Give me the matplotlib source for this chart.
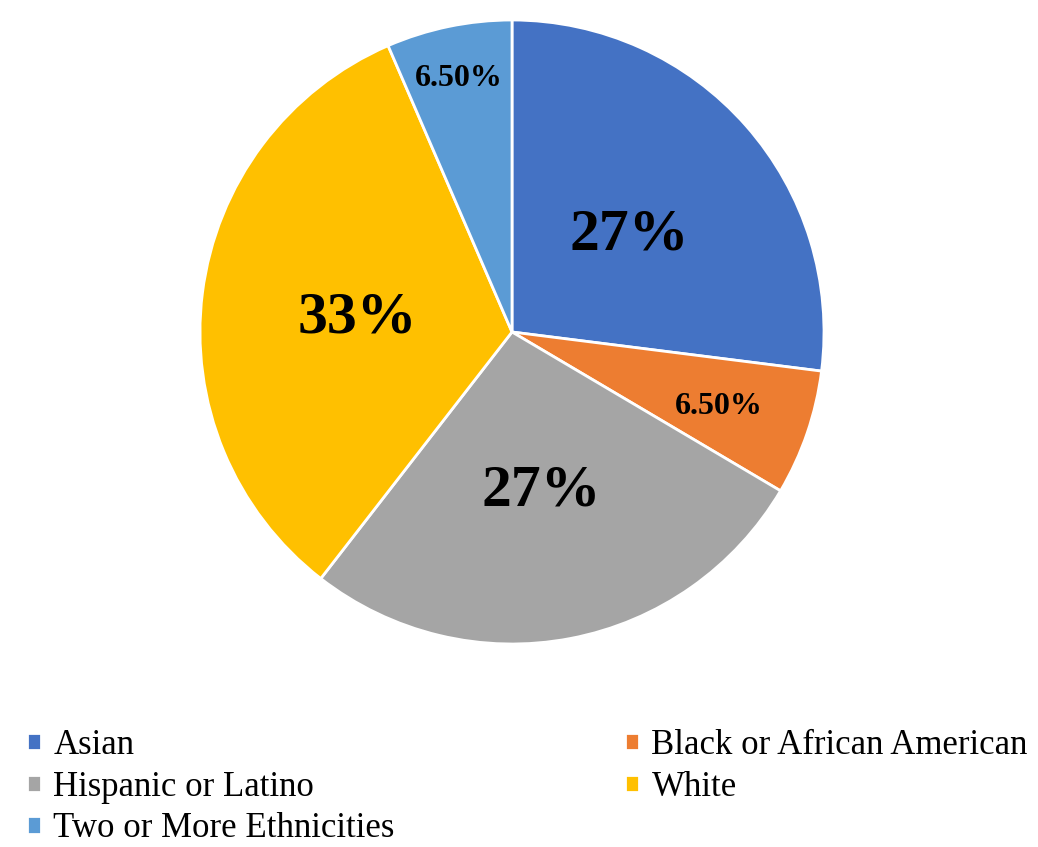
import numpy as np
import matplotlib.pyplot as plt

# data
groups = ['Asian', 'Black or African American', 'Hispanic or Latino', 'White', 'Two or More Ethnicities']
shares = [27, 6.5, 27, 33, 6.5]
pct_labels = ['27%', '6.50%', '27%', '33%', '6.50%']
colors = ['#4472C4', '#ED7D31', '#A5A5A5', '#FFC000', '#5B9BD5']

label_size = [43, 23, 43, 43, 23]
label_dist = [0.5, 0.7, 0.5, 0.5, 0.84]

plt.rcParams['font.family'] = ['Liberation Serif', 'DejaVu Serif']

fig = plt.figure(figsize=(10.38, 8.47), dpi=100)
ax = fig.add_axes([200/1038, 203/847, 624/1038, 624/847])

wedges, _ = ax.pie(shares, colors=colors, startangle=90, counterclock=False,
                   radius=1, wedgeprops=dict(edgecolor='white', linewidth=2))
ax.set_xlim(-1, 1)
ax.set_ylim(-1, 1)
ax.set_aspect('equal')
ax.axis('off')

# percentage labels in each slice
for w, txt, fs, d in zip(wedges, pct_labels, label_size, label_dist):
    ang = np.deg2rad((w.theta1 + w.theta2) / 2)
    ax.text(d*np.cos(ang), d*np.sin(ang), txt, ha='center', va='center_baseline',
            fontsize=fs, fontweight='bold', color='black')

# legend, laid out row by row like the original
left = [wedges[0], wedges[2], wedges[4]]
right = [wedges[1], wedges[3]]
kw = dict(frameon=False, fontsize=25, handlelength=0.4, handleheight=0.4,
          handletextpad=0.36, labelspacing=0.25, borderaxespad=0, borderpad=0)
fig.legend(left, [groups[0], groups[2], groups[4]], loc='upper left',
           bbox_to_anchor=(27/1038, 1 - 729/847), **kw)
fig.legend(right, [groups[1], groups[3]], loc='upper left',
           bbox_to_anchor=(625/1038, 1 - 729/847), **kw)

fig.savefig('out.png', dpi=100, facecolor='white')
